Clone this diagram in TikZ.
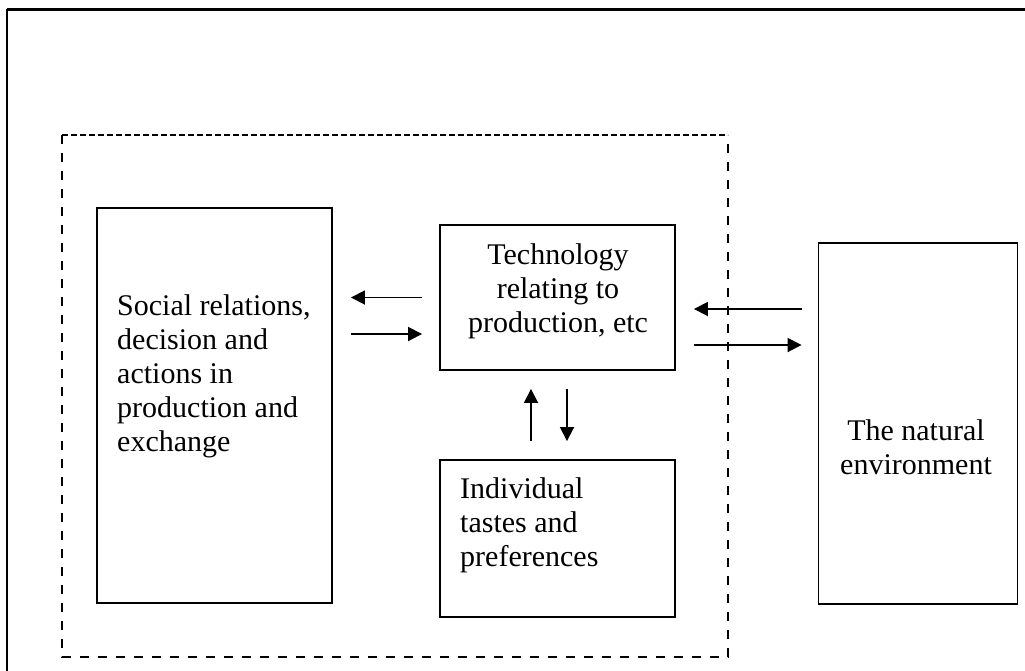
\documentclass[tikz,border=0pt]{standalone}
\usepackage{fontspec}
\setmainfont{Liberation Serif}
\usetikzlibrary{arrows.meta,calc}
\begin{document}
\begin{tikzpicture}[x=1pt,y=-1pt,
  box/.style={draw, line width=1.9pt, rectangle, inner sep=0pt},
  lbl/.style={font=\fontsize{30}{34}\selectfont, inner sep=0pt},
  arr/.style={line width=1.8pt, -{Triangle[length=14pt,width=14pt]}},
]
\useasboundingbox (0,0) rectangle (1025,670);

% outer frame (top and left edges only)
\draw[line width=3pt] (1030,9) -- (6.7,9);
\draw[line width=2pt] (6.7,9) -- (6.7,675);

% dashed boundary
\draw[line width=1.9pt, dash pattern=on 6pt off 3pt] (62,135) -- (728,135);
\draw[line width=1.9pt, dash pattern=on 9pt off 9pt] (62,135) -- (62,657) -- (728,657) -- (728,135);

% boxes
\node[box, minimum width=235pt, minimum height=395pt] (social) at (214.5,405.5) {};
\node[box, minimum width=235pt, minimum height=145pt] (tech) at (557.5,297.5) {};
\node[box, minimum width=235pt, minimum height=157pt] (indiv) at (557.5,538.5) {};
\node[box, minimum width=199pt, minimum height=361pt] (nature) at (918,423.5) {};

% labels
\node[lbl, anchor=north west, align=left] (socialtext) at (117,291)
  {\rule{0pt}{24pt}Social relations,\\decision and\\actions in\\production and\\exchange};
\node[lbl, anchor=north, align=center] (techtext) at (558,240)
  {\rule{0pt}{24pt}Technology\\relating to\\production, etc};
\node[lbl, anchor=north west, align=left] (indivtext) at (460,474)
  {\rule{0pt}{24pt}Individual\\tastes and\\preferences};
\node[lbl, anchor=north, align=center] (naturetext) at (916,416)
  {\rule{0pt}{24pt}The natural\\environment};

% arrows between technology and social relations
\coordinate (tl2) at ($(tech.west)+(0,36.5)$);
\draw[arr, shorten <=17pt, shorten >=18pt] (tech.west) -- (tech.west -| social.east);
\draw[arr, shorten <=18pt, shorten >=17pt] (tl2 -| social.east) -- (tl2);

% arrows between technology and the natural environment
\coordinate (tr1) at ($(tech.east)+(0,11.5)$);
\coordinate (tr2) at ($(tech.east)+(0,47.5)$);
\draw[arr, shorten <=16pt, shorten >=18pt] (tr1 -| nature.west) -- (tr1);
\draw[arr, shorten <=18pt, shorten >=16pt] (tr2) -- (tr2 -| nature.west);

% arrows between technology and individual tastes
\coordinate (tb1) at ($(tech.south)+(-26.5,0)$);
\coordinate (tb2) at ($(tech.south)+(9.5,0)$);
\draw[arr, shorten <=18pt, shorten >=18pt] (tb1 |- indiv.north) -- (tb1);
\draw[arr, shorten <=18pt, shorten >=18pt] (tb2) -- (tb2 |- indiv.north);
\end{tikzpicture}
\end{document}
